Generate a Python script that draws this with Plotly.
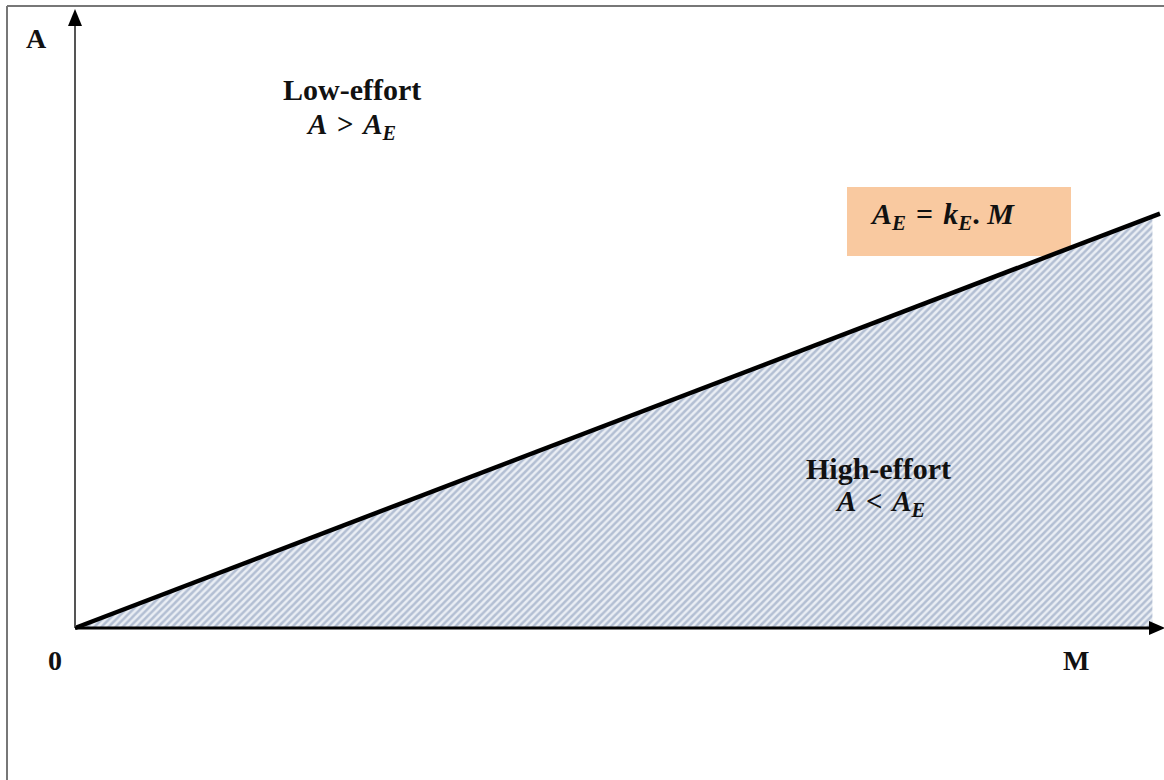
import plotly.graph_objects as go

# ---- data ----
M_line = [0.0, 10.0]        # boundary line A_E = k_E . M
A_line = [0.0, 3.82]
M_hatch = [0.0, 9.93]       # high-effort (hatched) region extent
A_hatch = [0.0, 3.79]
region_labels = ["Low-effort", "High-effort"]
SP = "\u2004"
region_formulas = [f"<i>A</i>{SP}>{SP}<i>A<sub>E</sub></i>",
                   f"<i>A</i>{SP}<{SP}<i>A<sub>E</sub></i>"]
boundary_label = f"<i>A<sub>E</sub></i>{SP}={SP}<i>k<sub>E</sub></i>.<i> M</i>"
axis_labels = ["A", "M", "0"]

# ---- canvas geometry ----
W, H = 1164, 780
X0, Y0 = 75, 628          # pixel of origin
UNIT = 108.5              # pixels per data unit


def px(x):
    return (x - X0) / UNIT


def py(y):
    return (Y0 - y) / UNIT


xr = [px(0), px(W)]
yr = [py(H), py(0)]

SERIF = "Liberation Serif"
INK = "#111111"

fig = go.Figure()

# hatched high-effort region
fig.add_trace(go.Scatter(
    x=[M_hatch[0], M_hatch[1], M_hatch[1], M_hatch[0]],
    y=[A_hatch[0], A_hatch[1], 0, A_hatch[0]],
    mode="lines", fill="toself", line=dict(width=0),
    fillcolor="rgba(0,0,0,0)",
    fillpattern=dict(shape="/", size=5, solidity=0.5,
                     fgcolor="#7c8fb2", bgcolor="#eaeef4"),
    hoverinfo="skip", showlegend=False,
))

# boundary line
fig.add_trace(go.Scatter(
    x=M_line, y=A_line, mode="lines",
    line=dict(color="#000000", width=4.5),
    hoverinfo="skip", showlegend=False,
))

shapes = []
# outer frame (top + left)
shapes.append(dict(type="line", xref="paper", yref="paper",
                   x0=7 / W, x1=1, y0=1 - 6 / H, y1=1 - 6 / H,
                   line=dict(color="#777777", width=2)))
shapes.append(dict(type="line", xref="paper", yref="paper",
                   x0=7 / W, x1=7 / W, y0=0, y1=1 - 6 / H,
                   line=dict(color="#777777", width=2)))
# y axis + arrow
shapes.append(dict(type="line", x0=0, x1=0, y0=0, y1=py(24),
                   line=dict(color="#555555", width=2)))
shapes.append(dict(type="path",
                   path=f"M {px(75)},{py(9)} L {px(68)},{py(26)} L {px(82)},{py(26)} Z",
                   fillcolor="#000000", line=dict(width=0)))
# x axis + arrow
shapes.append(dict(type="line", x0=0, x1=px(1152), y0=0, y1=0,
                   line=dict(color="#000000", width=3)))
shapes.append(dict(type="path",
                   path=f"M {px(1165)},0 L {px(1149)},{py(621)} L {px(1149)},{py(635)} Z",
                   fillcolor="#000000", line=dict(width=0)))
# label box for the boundary
shapes.append(dict(type="rect", x0=px(847), x1=px(1071), y0=py(256), y1=py(187),
                   fillcolor="#f9c9a0", line=dict(width=0), layer="below"))

ann = []


def txt(text, x, y, size, xanchor="center"):
    ann.append(dict(text=text, x=px(x), y=py(y), xref="x", yref="y",
                    showarrow=False, xanchor=xanchor, yanchor="middle",
                    font=dict(family=SERIF, size=size, color=INK)))


txt(f"<b>{axis_labels[0]}</b>", 36, 38, 28)
txt(f"<b>{axis_labels[1]}</b>", 1076, 660, 28)
txt(f"<b>{axis_labels[2]}</b>", 55, 660, 28)
txt(f"<b>{region_labels[0]}</b>", 352, 89, 30)
txt(f"<b>{region_formulas[0]}</b>", 351, 126, 29)
txt(f"<b>{region_labels[1]}</b>", 878, 468, 30)
txt(f"<b>{region_formulas[1]}</b>", 880, 503, 29)
txt(f"<b>{boundary_label}</b>", 868, 216, 30, xanchor="left")

fig.update_layout(
    width=W, height=H,
    margin=dict(l=0, r=0, t=0, b=0),
    paper_bgcolor="white", plot_bgcolor="white",
    xaxis=dict(range=xr, visible=False, fixedrange=True),
    yaxis=dict(range=yr, visible=False, fixedrange=True),
    shapes=shapes, annotations=ann,
    showlegend=False,
)

fig.write_html("out.html", config={"displayModeBar": False},
               post_script="document.body.style.margin='0';")
